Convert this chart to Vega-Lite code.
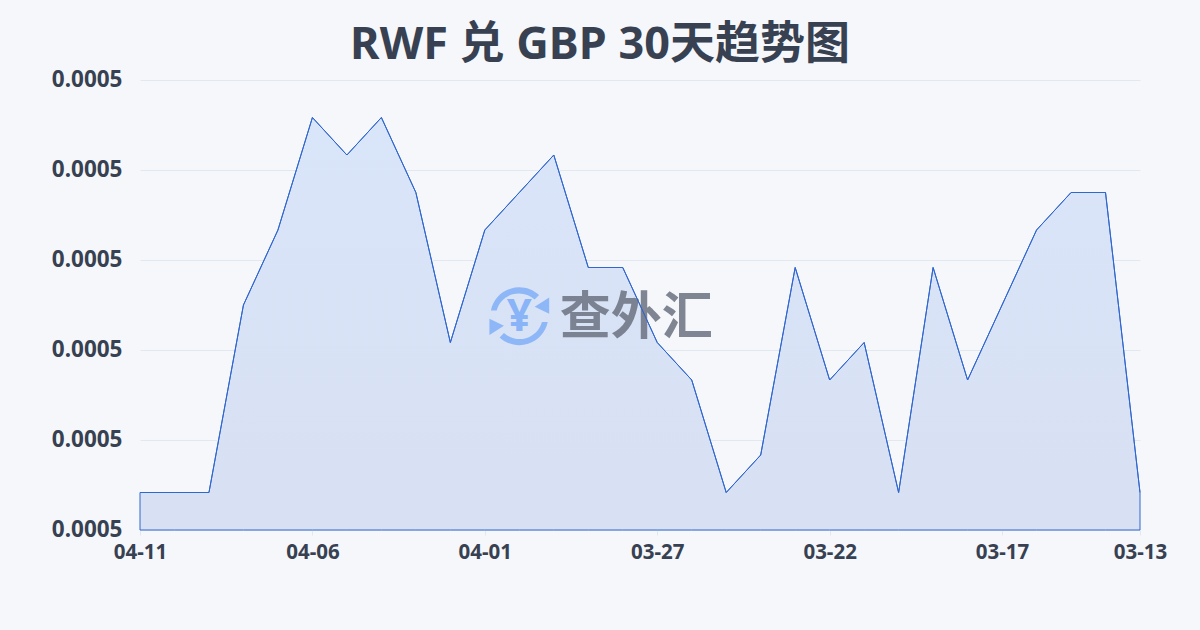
{"$schema":"https://vega.github.io/schema/vega-lite/v6.json","width":1000,"height":450,"autosize":"none","padding":{"left":140,"top":80,"right":60,"bottom":100},"background":"#f5f7fa","title":{"text":"RWF 兑 GBP 30天趋势图","anchor":"middle","font":"Noto Sans, Noto Sans CJK SC","fontSize":45,"fontWeight":"bold","color":"#374151","offset":-45,"dx":-40,"baseline":"bottom"},"config":{"view":{"stroke":null},"font":"Noto Sans"},"datasets":{"rates":[{"date":"04-11","rate":0.000501},{"date":"04-10","rate":0.000501},{"date":"04-09","rate":0.000501},{"date":"04-08","rate":0.000506},{"date":"04-07","rate":0.000508},{"date":"04-06","rate":0.000511},{"date":"04-05","rate":0.00051},{"date":"04-04","rate":0.000511},{"date":"04-03","rate":0.000509},{"date":"04-02","rate":0.000505},{"date":"04-01","rate":0.000508},{"date":"03-31","rate":0.000509},{"date":"03-30","rate":0.00051},{"date":"03-29","rate":0.000507},{"date":"03-28","rate":0.000507},{"date":"03-27","rate":0.000505},{"date":"03-26","rate":0.000504},{"date":"03-25","rate":0.000501},{"date":"03-24","rate":0.000502},{"date":"03-23","rate":0.000507},{"date":"03-22","rate":0.000504},{"date":"03-21","rate":0.000505},{"date":"03-20","rate":0.000501},{"date":"03-19","rate":0.000507},{"date":"03-18","rate":0.000504},{"date":"03-17","rate":0.000506},{"date":"03-16","rate":0.000508},{"date":"03-15","rate":0.000509},{"date":"03-14","rate":0.000509},{"date":"03-13","rate":0.000501}],"mark":[{"date":"03-31","rate":0.0005057}],"word":[{"date":"03-28","rate":0.0005057,"label":"查外汇"}]},"data":{"name":"rates"},"layer":[{"mark":{"type":"area","stroke":"#2f66cf","strokeWidth":1,"line":false,"fill":{"gradient":"linear","x1":0,"y1":0,"x2":0,"y2":1,"stops":[{"offset":0,"color":"#d9e5f9"},{"offset":1,"color":"#d8e0f3"}]}},"encoding":{"x":{"field":"date","type":"ordinal","sort":null,"scale":{"type":"point","padding":0},"axis":{"title":null,"labelExpr":"indexof(['04-11','04-06','04-01','03-27','03-22','03-17','03-13'],datum.label)>=0 ? datum.label : ''","tickOpacity":{"condition":{"test":"indexof(['04-11','04-06','04-01','03-27','03-22','03-17','03-13'],datum.label)>=0","value":1},"value":0},"labelAngle":0,"labelFont":"Noto Sans","labelFontSize":20.5,"labelFontWeight":"bold","labelColor":"#374151","labelPadding":7,"labelOverlap":false,"labelBound":false,"labelFlush":false,"domain":false,"tickColor":"#e2e8f0","tickSize":5,"grid":false}},"y":{"field":"rate","type":"quantitative","stack":false,"scale":{"domain":[0.0005,0.000512],"nice":false,"zero":false},"axis":{"title":null,"values":[0.0005,0.0005024,0.0005048,0.0005072,0.0005096,0.000512],"format":".4f","labelFont":"Noto Sans","labelFontSize":22.5,"labelFontWeight":"bold","labelColor":"#374151","labelPadding":18,"labelOffset":-1,"labelOverlap":false,"domain":false,"ticks":false,"grid":true,"gridColor":"#e2e8f0","gridWidth":1}}}},{"data":{"name":"mark"},"mark":{"type":"point","filled":true,"opacity":0.95,"color":"#8ab4f8","size":3364,"strokeWidth":0,"shape":"M-0.98 -0.2 A1 1 0 0 1 0.68 -0.73 L0.53 -0.58 A0.8 0.8 0 0 0 -0.78 -0.2 Z M1.03 -0.65 L1.03 -0.09 L0.53 -0.33 Z M0.98 0.2 A1 1 0 0 1 -0.68 0.73 L-0.53 0.58 A0.8 0.8 0 0 0 0.78 0.2 Z M-1.03 0.65 L-1.03 0.09 L-0.53 0.33 Z"},"encoding":{"x":{"field":"date","type":"ordinal","sort":null},"y":{"field":"rate","type":"quantitative"}}},{"data":{"name":"mark"},"mark":{"type":"text","text":"¥","font":"Noto Sans","fontSize":44,"fontWeight":"bold","color":"#8ab4f8","baseline":"middle","align":"center","dy":2},"encoding":{"x":{"field":"date","type":"ordinal","sort":null},"y":{"field":"rate","type":"quantitative"}}},{"data":{"name":"word"},"mark":{"type":"text","font":"Noto Sans CJK SC","fontSize":51,"fontWeight":"bold","color":"#6b7280","opacity":0.85,"baseline":"middle","align":"left","dx":-63,"dy":3},"encoding":{"x":{"field":"date","type":"ordinal","sort":null},"y":{"field":"rate","type":"quantitative"},"text":{"field":"label"}}},{"mark":{"type":"line","stroke":"#2f66cf","strokeWidth":1},"encoding":{"x":{"field":"date","type":"ordinal","sort":null},"y":{"field":"rate","type":"quantitative"}}}]}
